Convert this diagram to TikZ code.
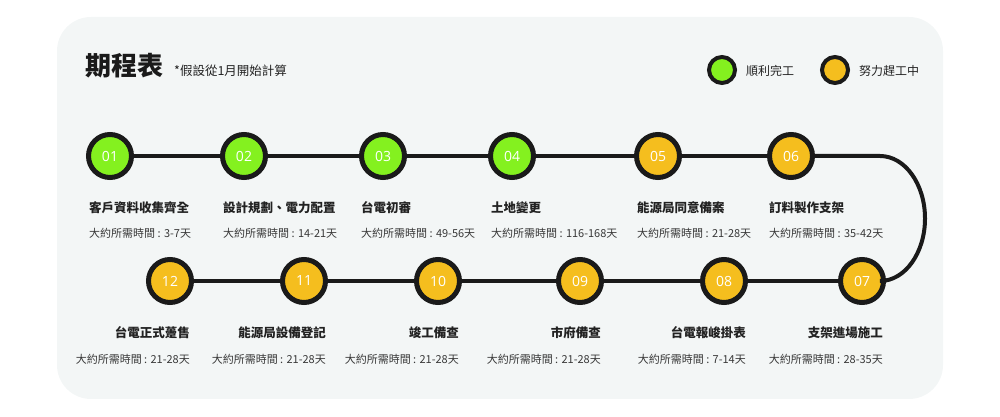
\documentclass[tikz,border=0pt]{standalone}
\usepackage{fontspec}
\setmainfont{Noto Sans CJK TC}
\newfontfamily\numfont{Open Sans}
\definecolor{bgc}{HTML}{F3F6F6}
\definecolor{okc}{HTML}{84F11F}
\definecolor{busyc}{HTML}{F5BE1E}
\definecolor{inkc}{HTML}{1A1A1A}
\definecolor{txtc}{HTML}{222222}
\definecolor{durc}{HTML}{383838}
\tikzset{
  stepdot/.style={circle, draw=inkc, line width=5pt, minimum size=43pt, inner sep=0pt,
    text=white, font=\numfont\fontsize{14}{14}\selectfont},
  done/.style={stepdot, fill=okc},
  busy/.style={stepdot, fill=busyc},
  legdot/.style={circle, draw=inkc, line width=4pt, minimum size=26pt, inner sep=0pt},
  link/.style={draw=inkc, line width=4pt},
  lab/.style={inner sep=0pt, text=txtc, font=\bfseries\fontsize{12.5}{13}\selectfont},
  dur/.style={inner sep=0pt, text=durc, font=\fontsize{11}{12}\selectfont},
  legtxt/.style={inner sep=0pt, text=txtc, font=\fontsize{12}{12}\selectfont},
}
\begin{document}
\begin{tikzpicture}[x=1pt,y=1pt]
\useasboundingbox (0,0) rectangle (1000,417);
\fill[bgc, rounded corners=34pt] (57,18) rectangle (943,400);
% title
\node[inner sep=0pt, anchor=base west, text=inkc, font=\bfseries\fontsize{26}{26}\selectfont] (title) at (85,341) {期程表};
\node[inner sep=0pt, anchor=base west, text=txtc, font=\fontsize{12.5}{13}\selectfont] (note) at (174,341) {*假設從1月開始計算};
% legend
\node[legdot, fill=okc] (lg1) at (722,347) {};
\node[legtxt, anchor=west] (lt1) at (746,346) {順利完工};
\node[legdot, fill=busyc] (lg2) at (835,347) {};
\node[legtxt, anchor=west] (lt2) at (859,346) {努力趕工中};
% steps
\node[done] (c1) at (110,261) {01};
\node[done] (c2) at (244,261) {02};
\node[done] (c3) at (383,261) {03};
\node[done] (c4) at (512,261) {04};
\node[busy] (c5) at (658,261) {05};
\node[busy] (c6) at (791,261) {06};
\node[busy] (c7) at (862,136) {07};
\node[busy] (c8) at (724,136) {08};
\node[busy] (c9) at (580,136) {09};
\node[busy] (c10) at (438,136) {10};
\node[busy] (c11) at (304,136) {11};
\node[busy] (c12) at (170,136) {12};
% connectors
\draw[link] (c1) -- (c2);
\draw[link] (c2) -- (c3);
\draw[link] (c3) -- (c4);
\draw[link] (c4) -- (c5);
\draw[link] (c5) -- (c6);
\draw[link] (c6.east) -- (880,261) arc[start angle=90, end angle=-90, x radius=45pt, y radius=62.5pt] -- (c7.east);
\draw[link] (c7) -- (c8);
\draw[link] (c8) -- (c9);
\draw[link] (c9) -- (c10);
\draw[link] (c10) -- (c11);
\draw[link] (c11) -- (c12);
% row 1 labels
\node[lab, anchor=west] (l1) at (89,209) {客戶資料收集齊全};
\node[dur, anchor=west] (d1) at (89,184) {大約所需時間 : 3-7天};
\node[lab, anchor=west] (l2) at (223,209) {設計規劃、電力配置};
\node[dur, anchor=west] (d2) at (223,184) {大約所需時間 : 14-21天};
\node[lab, anchor=west] (l3) at (361,209) {台電初審};
\node[dur, anchor=west] (d3) at (361,184) {大約所需時間 : 49-56天};
\node[lab, anchor=west] (l4) at (491,209) {土地變更};
\node[dur, anchor=west] (d4) at (491,184) {大約所需時間 : 116-168天};
\node[lab, anchor=west] (l5) at (637,209) {能源局同意備案};
\node[dur, anchor=west] (d5) at (637,184) {大約所需時間 : 21-28天};
\node[lab, anchor=west] (l6) at (769,209) {訂料製作支架};
\node[dur, anchor=west] (d6) at (769,184) {大約所需時間 : 35-42天};
% row 2 labels
\node[lab, anchor=east] (l7) at (883,84) {支架進場施工};
\node[dur, anchor=east] (d7) at (883,58) {大約所需時間 : 28-35天};
\node[lab, anchor=east] (l8) at (746,84) {台電報峻掛表};
\node[dur, anchor=east] (d8) at (746,58) {大約所需時間 : 7-14天};
\node[lab, anchor=east] (l9) at (601,84) {市府備查};
\node[dur, anchor=east] (d9) at (601,58) {大約所需時間 : 21-28天};
\node[lab, anchor=east] (l10) at (459,84) {竣工備查};
\node[dur, anchor=east] (d10) at (459,58) {大約所需時間 : 21-28天};
\node[lab, anchor=east] (l11) at (326,84) {能源局設備登記};
\node[dur, anchor=east] (d11) at (326,58) {大約所需時間 : 21-28天};
\node[lab, anchor=east] (l12) at (190,84) {台電正式躉售};
\node[dur, anchor=east] (d12) at (190,58) {大約所需時間 : 21-28天};
\end{tikzpicture}
\end{document}
